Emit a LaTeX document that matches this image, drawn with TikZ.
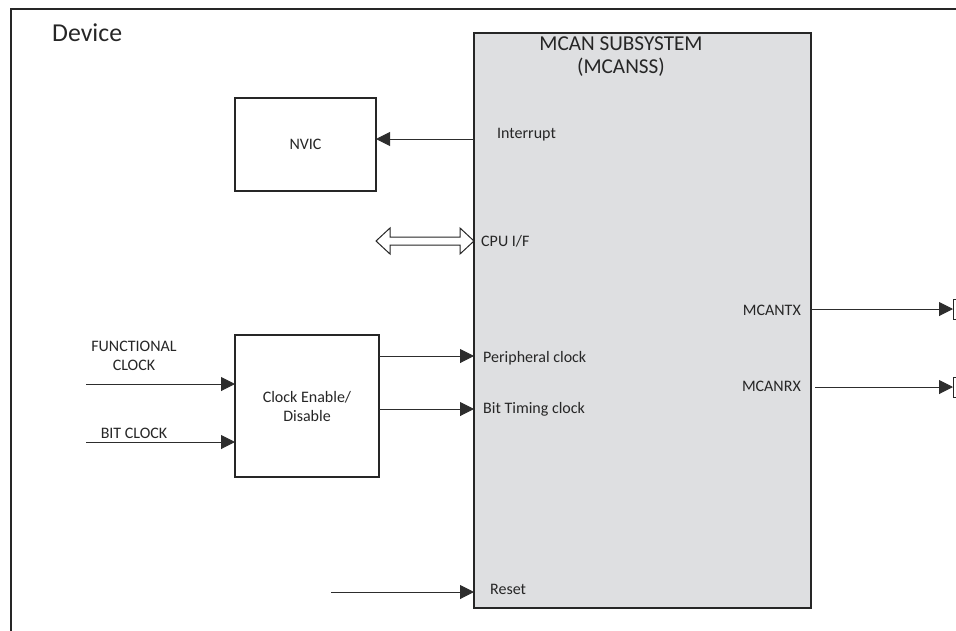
\documentclass[tikz,border=0pt]{standalone}
\usepackage{fontspec}
\setmainfont{Carlito}
\usetikzlibrary{arrows.meta}
\definecolor{boxfill}{RGB}{222,223,225}
\definecolor{ink}{RGB}{38,38,38}
\definecolor{wire}{RGB}{45,45,45}
\tikzset{
  blk/.style={draw=ink, line width=2pt, inner sep=0pt, outer sep=0pt, anchor=north west},
  arr/.style={draw=wire, line width=1pt, -{Triangle[length=14pt,width=14pt]}},
  small/.style={font=\fontsize{16}{19}\selectfont, text=ink, inner sep=0pt},
  big/.style={font=\fontsize{21.2}{23}\selectfont, text=ink, inner sep=0pt},
  pinbox/.style={draw=ink, line width=1.2pt, inner sep=0pt, anchor=north west, minimum width=22pt, minimum height=20pt},
}
\begin{document}
\begin{tikzpicture}[x=1pt,y=-1pt]
\useasboundingbox (0,0) rectangle (956,630);
\clip (0,0) rectangle (956,630);
% Device outline
\draw[draw=ink, line width=2pt] (11,650) -- (11,9) -- (970,9);
\node[anchor=base west, font=\fontsize{25.8}{28}\selectfont, text=ink, inner sep=0pt] (dev) at (52,41) {Device};
% MCAN subsystem
\node[blk, fill=boxfill, line width=2.5pt, minimum width=337pt, minimum height=575pt] (mcan) at (474,33) {};
\node[big, anchor=base] (t1) at (621,50) {MCAN SUBSYSTEM};
\node[big, anchor=base] (t2) at (621,73) {(MCANSS)};
% NVIC
\node[blk, minimum width=141pt, minimum height=93pt] (nvic) at (235,98) {};
\node[small] (nvict) at (nvic.center) {NVIC};
% Clock enable
\node[blk, minimum width=144pt, minimum height=142pt] (clk) at (235,335) {};
\node[small, anchor=base] (ce1) at (307,402) {Clock Enable/};
\node[small, anchor=base] (ce2) at (307,421) {Disable};
% pin labels
\node[small, anchor=base west] (lint) at (497,138) {Interrupt};
\node[small, anchor=base west] (lcpu) at (481,246) {CPU I/F};
\node[small, anchor=base west] (lper) at (483,362) {Peripheral clock};
\node[small, anchor=base west] (lbit) at (483,413) {Bit Timing clock};
\node[small, anchor=base west] (lrst) at (490,594) {Reset};
\node[small, anchor=base east] (ltx) at (801,315) {MCANTX};
\node[small, anchor=base east] (lrx) at (801,391) {MCANRX};
\node[small, anchor=base] (fc1) at (134,351) {FUNCTIONAL};
\node[small, anchor=base] (fc2) at (134,370) {CLOCK};
\node[small, anchor=base] (bc) at (134,438) {BIT CLOCK};
% pin boxes
\node[pinbox] (ptx) at (953,299) {};
\node[pinbox] (prx) at (953,377) {};
% coordinates
\coordinate (cint) at (474,139);
\coordinate (cper) at (379,356);
\coordinate (cbit) at (379,409);
\coordinate (cfc) at (86,384);
\coordinate (cbc) at (86,442);
\coordinate (crst) at (331,592);
\coordinate (ctx) at (811,309);
\coordinate (crx) at (815,387);
% connectors
\draw[arr] (cint) -- (nvic.east |- cint);
\draw[arr] (cper) -- (mcan.west |- cper);
\draw[arr] (cbit) -- (mcan.west |- cbit);
\draw[arr] (cfc) -- (clk.west |- cfc);
\draw[arr] (cbc) -- (clk.west |- cbc);
\draw[arr] (crst) -- (mcan.west |- crst);
\draw[arr] (ctx) -- (ptx.west |- ctx);
\draw[arr] (crx) -- (prx.west |- crx);
% CPU I/F double arrow
\draw[draw=ink, line width=1pt, fill=white, line join=miter]
  (376,241) -- (390,228) -- (390,237) -- (460,237) -- (460,228) -- (474,241)
  -- (460,254) -- (460,245) -- (390,245) -- (390,254) -- cycle;
\end{tikzpicture}
\end{document}
